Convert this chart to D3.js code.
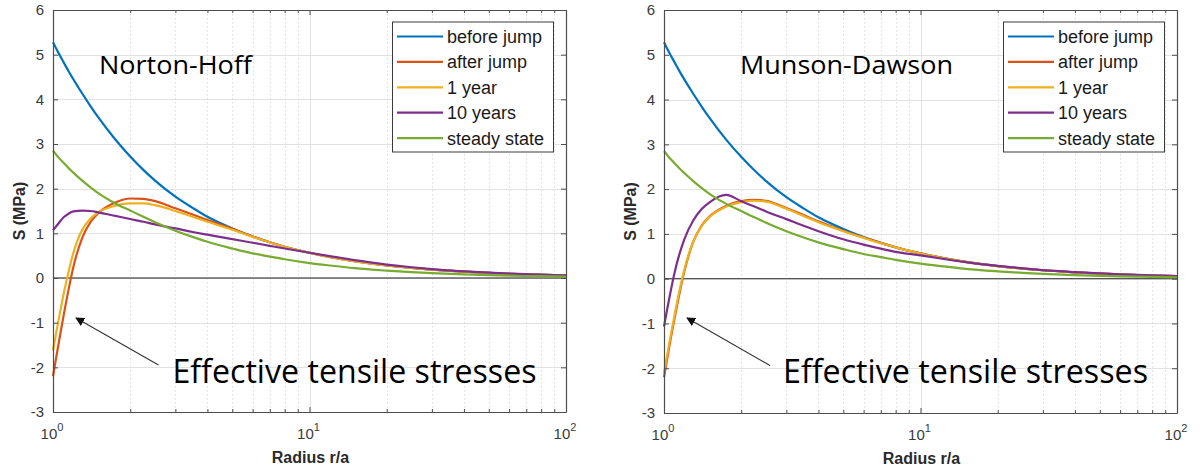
<!DOCTYPE html>
<html>
<head>
<meta charset="utf-8">
<script src="https://cdn.jsdelivr.net/npm/d3@7"></script>
<style>
  html, body { margin: 0; padding: 0; background: #ffffff; }
  svg { display: block; }
</style>
</head>
<body>
<svg id="chart" width="1202" height="472"></svg>
<script>
// ---------------- DATA ----------------
const radius = [1, 1.02, 1.05, 1.1, 1.15, 1.2, 1.3, 1.4, 1.5, 1.75, 2, 2.25, 2.5, 3, 3.5, 4, 5, 6, 7, 8, 10, 12, 15, 20, 25, 30, 40, 50, 60, 70, 80, 100];

const beforeJump = [5.28, 5.18, 5.04, 4.83, 4.63, 4.45, 4.13, 3.85, 3.6, 3.1, 2.72, 2.42, 2.18, 1.82, 1.57, 1.37, 1.11, 0.93, 0.8, 0.7, 0.565, 0.47, 0.375, 0.28, 0.225, 0.188, 0.141, 0.113, 0.094, 0.081, 0.071, 0.057];
const steadyState = [2.85, 2.79, 2.7, 2.58, 2.46, 2.36, 2.18, 2.03, 1.9, 1.67, 1.51, 1.37, 1.25, 1.06, 0.92, 0.81, 0.66, 0.55, 0.48, 0.42, 0.335, 0.28, 0.22, 0.165, 0.13, 0.108, 0.08, 0.064, 0.053, 0.045, 0.04, 0.031];

// Norton-Hoff
const nhAfterJump = [-2.2, -1.91, -1.49, -0.84, -0.26, 0.24, 0.9, 1.25, 1.45, 1.69, 1.78, 1.77, 1.72, 1.56, 1.42, 1.3, 1.1, 0.93, 0.8, 0.7, 0.565, 0.47, 0.375, 0.28, 0.225, 0.188, 0.141, 0.113, 0.094, 0.081, 0.071, 0.057];
const nhOneYear = [-1.62, -1.35, -0.96, -0.36, 0.14, 0.56, 1.08, 1.33, 1.47, 1.62, 1.67, 1.67, 1.63, 1.5, 1.37, 1.26, 1.08, 0.92, 0.8, 0.7, 0.562, 0.468, 0.374, 0.28, 0.225, 0.188, 0.141, 0.113, 0.094, 0.081, 0.071, 0.057];
const nhTenYears = [1.07, 1.13, 1.22, 1.36, 1.44, 1.49, 1.51, 1.5, 1.47, 1.39, 1.32, 1.26, 1.2, 1.11, 1.03, 0.97, 0.87, 0.79, 0.72, 0.66, 0.565, 0.49, 0.4, 0.3, 0.24, 0.2, 0.15, 0.12, 0.1, 0.086, 0.075, 0.06];

// Munson-Dawson
const mdAfterJump = [-2.2, -1.92, -1.5, -0.88, -0.32, 0.16, 0.82, 1.18, 1.38, 1.63, 1.73, 1.76, 1.74, 1.58, 1.42, 1.28, 1.07, 0.92, 0.8, 0.7, 0.565, 0.47, 0.375, 0.28, 0.225, 0.188, 0.141, 0.113, 0.094, 0.081, 0.071, 0.057];
const mdOneYear = [-2.1, -1.83, -1.42, -0.81, -0.26, 0.2, 0.83, 1.17, 1.37, 1.61, 1.71, 1.74, 1.72, 1.56, 1.4, 1.26, 1.06, 0.91, 0.79, 0.7, 0.562, 0.468, 0.374, 0.28, 0.225, 0.188, 0.141, 0.113, 0.094, 0.081, 0.071, 0.057];
const mdTenYears = [-1.07, -0.8, -0.42, 0.14, 0.56, 0.88, 1.3, 1.55, 1.7, 1.87, 1.73, 1.61, 1.5, 1.33, 1.18, 1.06, 0.88, 0.76, 0.67, 0.6, 0.52, 0.45, 0.37, 0.285, 0.23, 0.19, 0.145, 0.117, 0.097, 0.083, 0.073, 0.059];

const seriesNames = ["before jump", "after jump", "1 year", "10 years", "steady state"];
const seriesColors = ["#0072BD", "#D95319", "#EDB120", "#7E2F8E", "#77AC30"];
const yTicks = [-3, -2, -1, 0, 1, 2, 3, 4, 5, 6];
const xTicks = [1, 10, 100];
const xTickExp = ["0", "1", "2"];
const xLabel = "Radius r/a";
const yLabel = "S (MPa)";
const panelTitles = ["Norton-Hoff", "Munson-Dawson"];
const annotationText = "Effective tensile stresses";

// ---------------- LAYOUT ----------------
const panels = [
  { x0: 53, x1: 566, y0: 10, y1: 412, title: panelTitles[0],
    series: [beforeJump, nhAfterJump, nhOneYear, nhTenYears, steadyState],
    titlePos: [99, 73.5], titleLen: 153,
    annoPos: [172.5, 383], annoLen: 364,
    arrowFrom: [158.5, 365], arrowTo: [76, 318], zeroColor: "#1a1a1a" },
  { x0: 664, x1: 1177, y0: 10, y1: 413, title: panelTitles[1],
    series: [beforeJump, mdAfterJump, mdOneYear, mdTenYears, steadyState],
    titlePos: [740, 73.5], titleLen: 213,
    annoPos: [783, 383], annoLen: 365,
    arrowFrom: [770, 365.5], arrowTo: [687, 318], zeroColor: "#555555" }
];

const svg = d3.select("#chart");
const defs = svg.append("defs");
defs.append("marker")
  .attr("id", "arrowhead")
  .attr("viewBox", "0 0 10 10")
  .attr("refX", 9).attr("refY", 5)
  .attr("markerWidth", 9).attr("markerHeight", 9)
  .attr("markerUnits", "userSpaceOnUse")
  .attr("orient", "auto")
  .append("path").attr("d", "M0,0 L10,5 L0,10 Z").attr("fill", "#111");

const tickFont = "'Liberation Sans', Arial, Helvetica, sans-serif";
const minorX = [];
[1, 10].forEach(d => { for (let k = 2; k <= 9; k++) minorX.push(d * k); });

panels.forEach((p, pi) => {
  const x = d3.scaleLog().domain([1, 100]).range([p.x0, p.x1]);
  const y = d3.scaleLinear().domain([-3, 6]).range([p.y1, p.y0]);
  const g = svg.append("g");
  const W = p.x1 - p.x0, H = p.y1 - p.y0;

  g.append("rect").attr("x", p.x0).attr("y", p.y0).attr("width", W).attr("height", H).attr("fill", "#fff");

  // minor x grid (dotted)
  g.append("g").selectAll("line").data(minorX).join("line")
    .attr("x1", d => Math.round(x(d)) + 0.5).attr("x2", d => Math.round(x(d)) + 0.5)
    .attr("y1", p.y0).attr("y2", p.y1)
    .attr("stroke", "#dcdcdc").attr("stroke-width", 1).attr("stroke-dasharray", "1.5,2.5");
  // major x grid
  g.append("g").selectAll("line").data(xTicks.slice(1, -1)).join("line")
    .attr("x1", d => Math.round(x(d)) + 0.5).attr("x2", d => Math.round(x(d)) + 0.5)
    .attr("y1", p.y0).attr("y2", p.y1)
    .attr("stroke", "#e2e2e2").attr("stroke-width", 1);
  // major y grid
  g.append("g").selectAll("line").data(yTicks.slice(1, -1)).join("line")
    .attr("x1", p.x0).attr("x2", p.x1)
    .attr("y1", d => Math.round(y(d)) + 0.5).attr("y2", d => Math.round(y(d)) + 0.5)
    .attr("stroke", "#e2e2e2").attr("stroke-width", 1);

  // zero line
  g.append("line")
    .attr("x1", p.x0).attr("x2", p.x1)
    .attr("y1", y(0)).attr("y2", y(0))
    .attr("stroke", p.zeroColor).attr("stroke-width", 1.2);

  // curves
  const line = d3.line()
    .x((d, i) => x(radius[i]))
    .y(d => y(d))
    .curve(d3.curveMonotoneX);
  p.series.forEach((vals, si) => {
    g.append("path").datum(vals)
      .attr("d", line)
      .attr("fill", "none")
      .attr("stroke", seriesColors[si])
      .attr("stroke-width", 2.2)
      .attr("stroke-linejoin", "round");
  });

  // axes
  const axisColor = "#4d4d4d";
  const styleAxis = sel => {
    sel.select(".domain").attr("stroke", axisColor).attr("stroke-width", 1.2);
    sel.selectAll(".tick line").attr("stroke", axisColor);
  };
  const yLeft = g.append("g").attr("transform", `translate(${p.x0},0)`)
    .call(d3.axisLeft(y).tickValues(yTicks).tickSizeInner(-5).tickSizeOuter(0).tickPadding(9).tickFormat(d => String(d)));
  styleAxis(yLeft);
  yLeft.selectAll("text").attr("font-family", tickFont).attr("font-size", 15).attr("fill", "#3a3a3a");

  const yRight = g.append("g").attr("transform", `translate(${p.x1},0)`)
    .call(d3.axisRight(y).tickValues(yTicks).tickSizeInner(-5).tickSizeOuter(0).tickFormat(""));
  styleAxis(yRight);

  const xBottom = g.append("g").attr("transform", `translate(0,${p.y1})`)
    .call(d3.axisBottom(x).tickValues(xTicks).tickSizeInner(-5).tickSizeOuter(0).tickFormat(""));
  styleAxis(xBottom);
  const xBottomMinor = g.append("g").attr("transform", `translate(0,${p.y1})`)
    .call(d3.axisBottom(x).tickValues(minorX).tickSizeInner(-3).tickSizeOuter(0).tickFormat(""));
  styleAxis(xBottomMinor);
  xBottomMinor.select(".domain").remove();

  const xTop = g.append("g").attr("transform", `translate(0,${p.y0})`)
    .call(d3.axisTop(x).tickValues(xTicks).tickSizeInner(-5).tickSizeOuter(0).tickFormat(""));
  styleAxis(xTop);
  const xTopMinor = g.append("g").attr("transform", `translate(0,${p.y0})`)
    .call(d3.axisTop(x).tickValues(minorX).tickSizeInner(-3).tickSizeOuter(0).tickFormat(""));
  styleAxis(xTopMinor);
  xTopMinor.select(".domain").remove();

  // x tick labels 10^n
  xTicks.forEach((v, i) => {
    const t = g.append("text")
      .attr("x", x(v) - 1).attr("y", p.y1 + 27)
      .attr("text-anchor", "middle")
      .attr("font-family", tickFont).attr("font-size", 15).attr("fill", "#3a3a3a");
    t.append("tspan").text("10");
    t.append("tspan").attr("dy", -8).attr("font-size", 11).text(xTickExp[i]);
  });

  // axis labels
  g.append("text")
    .attr("x", (p.x0 + p.x1) / 2 + 1).attr("y", p.y1 + 51)
    .attr("text-anchor", "middle")
    .attr("font-family", tickFont).attr("font-size", 16).attr("font-weight", "bold").attr("fill", "#2a2a2a")
    .text(xLabel);
  g.append("text")
    .attr("transform", `translate(${p.x0 - 28},${(p.y0 + p.y1) / 2}) rotate(-90)`)
    .attr("text-anchor", "middle")
    .attr("font-family", tickFont).attr("font-size", 16).attr("font-weight", "bold").attr("fill", "#2a2a2a")
    .text(yLabel);

  // legend
  const lw = 161, lh = 130;
  const lx = p.x1 - 13 - lw, ly = p.y0 + 11.5;
  const lg = g.append("g");
  lg.append("rect").attr("x", lx + 0.5).attr("y", ly + 0.5).attr("width", lw).attr("height", lh)
    .attr("fill", "#fff").attr("stroke", "#3a3a3a").attr("stroke-width", 1);
  seriesNames.forEach((name, i) => {
    const cy = ly + 15 + i * 25.4;
    lg.append("line").attr("x1", lx + 5).attr("x2", lx + 51).attr("y1", cy).attr("y2", cy)
      .attr("stroke", seriesColors[i]).attr("stroke-width", 2.2);
    lg.append("text").attr("x", lx + 55).attr("y", cy).attr("dy", "0.36em")
      .attr("font-family", tickFont).attr("font-size", 18).attr("fill", "#1a1a1a")
      .text(name);
  });

  // annotations
  const annoFont = "'Open Sans', 'Noto Sans', sans-serif";
  g.append("text")
    .attr("x", p.titlePos[0]).attr("y", p.titlePos[1])
    .attr("font-family", annoFont).attr("font-size", 25).attr("fill", "#000")
    .attr("textLength", p.titleLen).attr("lengthAdjust", "spacingAndGlyphs")
    .text(p.title);
  g.append("text")
    .attr("x", p.annoPos[0]).attr("y", p.annoPos[1])
    .attr("font-family", annoFont).attr("font-size", 32).attr("fill", "#000")
    .attr("textLength", p.annoLen).attr("lengthAdjust", "spacingAndGlyphs")
    .text(annotationText);
  g.append("line")
    .attr("x1", p.arrowFrom[0]).attr("y1", p.arrowFrom[1])
    .attr("x2", p.arrowTo[0]).attr("y2", p.arrowTo[1])
    .attr("stroke", "#333").attr("stroke-width", 1.1)
    .attr("marker-end", "url(#arrowhead)");
});
</script>
</body>
</html>
